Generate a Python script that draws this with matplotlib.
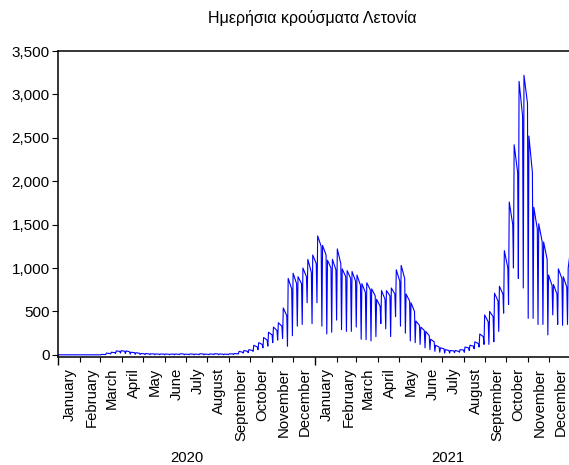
import numpy as np
import pandas as pd
import matplotlib
matplotlib.use("Agg")
import matplotlib.pyplot as plt
import matplotlib.dates as mdates
from matplotlib.ticker import FuncFormatter

plt.rcParams['font.family'] = ['Liberation Sans', 'DejaVu Sans']

TITLE = "Ημερήσια κρούσματα Λετονία"

# daily cases, one row of values per month,
# weeks starting Monday 2019-12-30: Monday low, Tuesday high, Sunday high
week_low = [0, 0, 0, 0, 0, 0, 0, 0, 0,
            0, 3, 10, 15, 20, 15, 8, 5, 3,
            2, 2, 1, 1,
            0, 1, 0, 2, 0,
            1, 0, 1, 0,
            1, 2, 1, 1, 2,
            3, 10, 20, 25,
            40, 60, 80, 100,
            140, 170, 190, 100, 220,
            330, 350, 600, 360,
            # 2021
            600, 330, 240, 260,
            400, 290, 270, 270,
            320, 180, 175, 160, 210,
            360, 300, 210, 440,
            330, 250, 160, 140, 120,
            80, 60, 40, 30,
            20, 20, 25, 30,
            30, 50, 70, 90, 120,
            120, 150, 270, 480,
            580, 1000, 880, 770,
            420, 420, 350, 350, 230,
            460, 350, 340, 350]

week_high = [0, 0, 0, 0, 0, 0, 0, 0, 0,
             5, 20, 30, 45, 48, 45, 30, 25, 15,
             15, 12, 10, 10,
             10, 8, 10, 12, 8,
             10, 8, 12, 8,
             10, 12, 10, 8, 12,
             15, 40, 50, 60,
             110, 140, 200, 260,
             320, 370, 540, 880, 940,
             900, 1000, 1100, 1150,
             # 2021
             1370, 1260, 1090, 1100,
             1220, 990, 970, 960,
             920, 820, 830, 760, 640,
             740, 740, 770, 980,
             1030, 700, 600, 390, 320,
             270, 180, 110, 80,
             60, 50, 50, 60,
             90, 110, 150, 240, 460,
             500, 710, 790, 1200,
             1760, 2420, 3150, 3220,
             2520, 1700, 1510, 1300, 920,
             810, 990, 900, 1000]

week_high2 = [0, 0, 0, 0, 0, 0, 0, 0, 0,
              3, 15, 25, 40, 42, 35, 25, 18, 12,
              10, 10, 8, 8,
              6, 8, 6, 10, 6,
              8, 6, 10, 6,
              8, 10, 8, 6, 10,
              12, 30, 40, 50,
              90, 120, 170, 230,
              280, 330, 450, 760, 820,
              820, 900, 950, 1050,
              # 2021
              1250, 1150, 1000, 980,
              1050, 900, 880, 850,
              800, 720, 750, 680, 560,
              640, 680, 700, 850,
              880, 620, 500, 340, 280,
              220, 150, 90, 70,
              50, 45, 40, 55,
              80, 100, 130, 210, 380,
              440, 620, 700, 1000,
              1500, 2100, 2750, 2900,
              2100, 1450, 1300, 1100, 800,
              700, 880, 780, 1320]

months = ["January", "February", "March", "April", "May", "June", "July",
          "August", "September", "October", "November", "December"]
years = ["2020", "2021"]

week_start = pd.date_range("2019-12-30", periods=len(week_low), freq="7D")
n = len(week_low)
t = np.empty(3 * n, dtype="datetime64[ns]")
t[0::3] = week_start.values
t[1::3] = (week_start + pd.Timedelta(days=1)).values
t[2::3] = (week_start + pd.Timedelta(days=6)).values
v = np.empty(3 * n)
v[0::3] = week_low
v[1::3] = week_high
v[2::3] = week_high2

fig = plt.figure(figsize=(5.69, 4.65), dpi=100)
ax = fig.add_axes([58 / 569, 1 - 357 / 465, 513 / 569, 306 / 465])

ax.plot(t, v, color="#0000ff", lw=0.8)

ax.set_xlim(pd.Timestamp("2020-01-01"), pd.Timestamp("2022-01-01"))
ax.set_ylim(-25, 3500)
ax.set_yticks(np.arange(0, 3501, 500))
ax.yaxis.set_major_formatter(FuncFormatter(lambda x, p: f"{int(x):,}"))
ax.tick_params(axis="y", labelsize=11, length=4, width=0.8, pad=2)

ax.xaxis.set_major_locator(mdates.YearLocator())
ax.xaxis.set_minor_locator(mdates.MonthLocator())
ax.tick_params(axis="x", which="major", length=6, width=1, labelbottom=False)
ax.tick_params(axis="x", which="minor", length=3.5, width=0.8)

ax.spines["right"].set_visible(False)
for s in ["left", "top", "bottom"]:
    ax.spines[s].set_linewidth(1.1)

trans = ax.get_xaxis_transform()
for yi, yr in enumerate(years):
    for mi, m in enumerate(months):
        d = pd.Timestamp(f"{yr}-{mi + 1:02d}-18")
        ax.text(d, -0.035, m, rotation=90, ha="center", va="top",
                fontsize=10.7, transform=trans)
    mid = pd.Timestamp(f"{yr}-07-02") if yi == 0 else pd.Timestamp(f"{yr}-07-10")
    ax.text(mid, -0.33, yr, ha="center", va="center", fontsize=10.7,
            transform=trans)

fig.text(0.549, 1 - 18 / 465, TITLE, ha="center", va="center", fontsize=11.5)

fig.savefig("out.png", dpi=100)
